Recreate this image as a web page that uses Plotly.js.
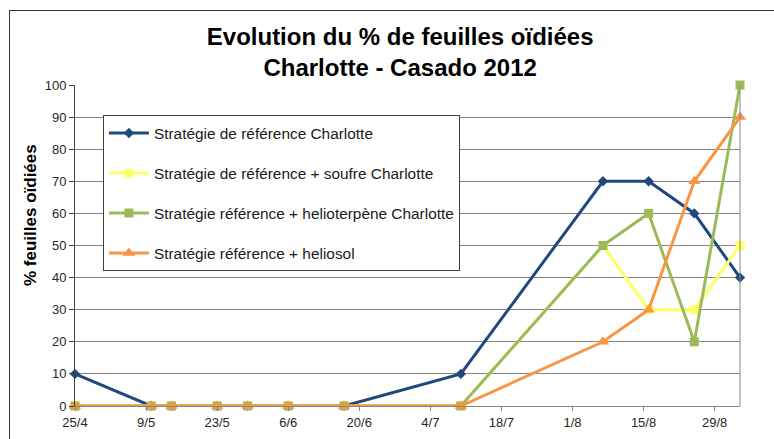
<!DOCTYPE html>
<html>
<head>
<meta charset="utf-8">
<script src="https://cdn.plot.ly/plotly-3.0.1.min.js"></script>
<style>
  html, body { margin:0; padding:0; background:#fff; overflow:hidden; width:774px; height:439px; }
  #frame { position:absolute; left:9px; top:10px; width:800px; height:500px; border-left:1px solid #333; border-top:1px solid #333; }
  #chart { position:absolute; left:0; top:0; width:774px; height:439px; }
</style>
</head>
<body>
<div id="frame"></div>
<div id="chart"></div>
<script>
const dates = ['2012-04-25','2012-05-10','2012-05-14','2012-05-23','2012-05-29','2012-06-06','2012-06-17','2012-07-10','2012-08-07','2012-08-16','2012-08-25','2012-09-03'];
const seriesNames = [
  'Stratégie de référence Charlotte',
  'Stratégie de référence + soufre Charlotte',
  'Stratégie référence + helioterpène Charlotte',
  'Stratégie référence + heliosol'
];
const refCharlotte = [10,0,0,0,0,0,0,10,70,70,60,40];
const refSoufre    = [0,0,0,0,0,0,0,0,50,30,30,50];
const refHelioterpene = [0,0,0,0,0,0,0,0,50,60,20,100];
const refHeliosol  = [0,0,0,0,0,0,0,0,20,30,70,90];
const titleText = 'Evolution du % de feuilles oïdiées<br>Charlotte - Casado 2012';
const yTitle = '% feuilles oïdiées';

const styles = [
  {color:'#1F497D', symbol:'diamond', size:8},
  {color:'#FFFF66', symbol:'square', size:9},
  {color:'#9BBB59', symbol:'square', size:9},
  {color:'#F79646', symbol:'triangle-up', size:11}
];
const values = [refCharlotte, refSoufre, refHelioterpene, refHeliosol];

const traces = values.map((v,i) => ({
  type:'scatter', mode:'lines+markers',
  x: dates, y: v, name: seriesNames[i], legendgroup: 'g'+i,
  line:{color:styles[i].color, width:3},
  marker:{color:styles[i].color, symbol:styles[i].symbol, size:styles[i].size},
  cliponaxis:false
}));

const layout = {
  width:774, height:439,
  margin:{l:75, r:34, t:85, b:33},
  paper_bgcolor:'rgba(0,0,0,0)', plot_bgcolor:'rgba(0,0,0,0)',
  font:{family:'Liberation Sans, Arial, sans-serif', color:'#262626'},
  title:{text:'<b>'+titleText+'</b>', font:{size:24, color:'#000'}, xref:'container', x:0.517, xanchor:'center', yref:'container', y:0.898, yanchor:'top'},
  xaxis:{type:'date', range:['2012-04-25','2012-09-03'], tick0:'2012-04-25', dtick:14*86400000, tickformat:'%-d/%-m',
    showgrid:false, showline:true, linecolor:'#868686', linewidth:1, ticks:'outside', ticklen:4, tickcolor:'#868686',
    tickfont:{size:13, color:'#262626'}, zeroline:false, fixedrange:true},
  yaxis:{range:[0,100], dtick:10, showgrid:true, gridcolor:'#868686', gridwidth:1, showline:true, linecolor:'#404040', linewidth:1,
    ticks:'outside', ticklen:5, tickcolor:'#404040', tickfont:{size:13, color:'#262626'}, zeroline:false, fixedrange:true},
  shapes:[{type:'line', xref:'paper', yref:'paper', x0:1, x1:1, y0:0, y1:1, line:{color:'#868686', width:1}}],
  annotations:[{text:'<b>'+yTitle+'</b>', xref:'paper', yref:'paper', x:-0.0677, y:0.595, textangle:-90, showarrow:false,
    xanchor:'center', yanchor:'middle', font:{size:17, color:'#000'}}],
  legend:{x:0.042, y:0.905, xanchor:'left', yanchor:'top', bgcolor:'#fff', bordercolor:'#404040', borderwidth:1,
    font:{size:15.4, color:'#1a1a1a'}, traceorder:'grouped', tracegroupgap:17, itemwidth:40},
  showlegend:true
};

Plotly.newPlot('chart', traces, layout, {displayModeBar:false, staticPlot:true});
</script>
</body>
</html>
